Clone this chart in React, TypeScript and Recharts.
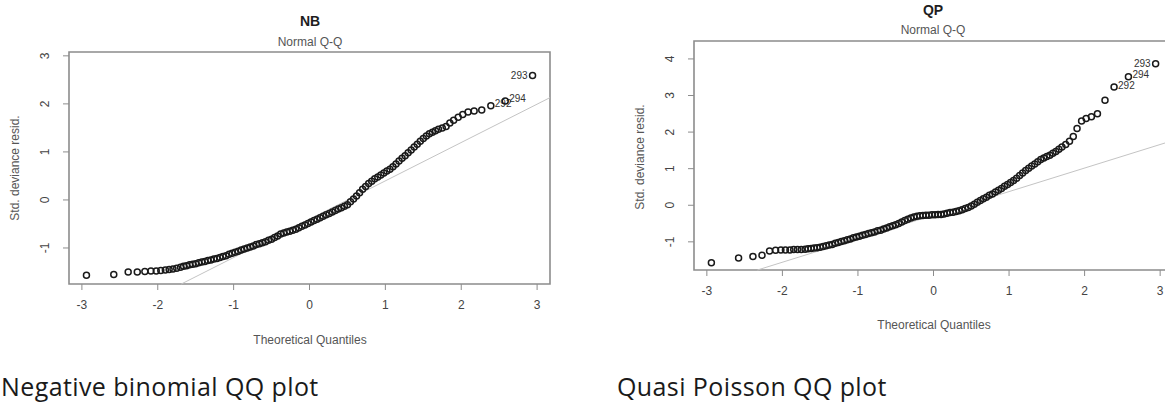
import React from 'react'
import { ScatterChart, Scatter, XAxis, YAxis, ReferenceLine, ReferenceArea } from 'recharts'

// theoretical quantiles (shared by both panels, same sample)
const quantiles = [
  -2.94, -2.58, -2.39, -2.27, -2.17, -2.09, -2.02, -1.96, -1.9, -1.85, -1.8, -1.75, -1.7, -1.66, -1.62, -1.58, -1.54, -1.5,
  -1.46, -1.42, -1.38, -1.34, -1.3, -1.26, -1.22, -1.18, -1.14, -1.1, -1.06, -1.02, -0.98, -0.94, -0.9, -0.86, -0.82, -0.78,
  -0.74, -0.7, -0.66, -0.62, -0.58, -0.54, -0.5, -0.46, -0.42, -0.38, -0.34, -0.3, -0.26, -0.22, -0.18, -0.14, -0.1, -0.06,
  -0.02, 0.02, 0.06, 0.1, 0.14, 0.18, 0.22, 0.26, 0.3, 0.34, 0.38, 0.42, 0.46, 0.5, 0.54, 0.58, 0.62, 0.66, 0.7, 0.74,
  0.78, 0.82, 0.86, 0.9, 0.94, 0.98, 1.02, 1.06, 1.1, 1.14, 1.18, 1.22, 1.26, 1.3, 1.34, 1.38, 1.42, 1.46,
  1.5, 1.54, 1.58, 1.62, 1.66, 1.7, 1.75, 1.8, 1.85, 1.9, 1.96, 2.02, 2.09, 2.17, 2.27, 2.39, 2.58, 2.94,
]

const nbResid = [
  -1.57, -1.55, -1.5, -1.5, -1.49, -1.48, -1.48, -1.47, -1.46, -1.45, -1.44, -1.42, -1.4, -1.38, -1.37, -1.35, -1.34, -1.33,
  -1.31, -1.29, -1.28, -1.26, -1.25, -1.23, -1.22, -1.2, -1.18, -1.16, -1.13, -1.11, -1.09, -1.07, -1.04, -1.02, -1.0, -0.98,
  -0.96, -0.93, -0.91, -0.89, -0.87, -0.84, -0.82, -0.78, -0.75, -0.71, -0.69, -0.67, -0.65, -0.63, -0.61, -0.58, -0.55, -0.52,
  -0.49, -0.46, -0.43, -0.4, -0.37, -0.34, -0.31, -0.28, -0.25, -0.22, -0.19, -0.16, -0.13, -0.1, -0.04, 0.02, 0.08, 0.15, 0.22, 0.28,
  0.34, 0.39, 0.44, 0.48, 0.52, 0.56, 0.6, 0.64, 0.69, 0.75, 0.81, 0.87, 0.92, 0.98, 1.04, 1.1, 1.16, 1.22,
  1.28, 1.33, 1.38, 1.41, 1.44, 1.47, 1.5, 1.53, 1.6, 1.66, 1.72, 1.78, 1.83, 1.85, 1.87, 1.96, 2.06, 2.59,
]

const qpResid = [
  -1.57, -1.44, -1.4, -1.37, -1.25, -1.23, -1.22, -1.22, -1.22, -1.21, -1.21, -1.21, -1.2, -1.19, -1.18, -1.17, -1.16, -1.15,
  -1.13, -1.11, -1.09, -1.07, -1.04, -1.02, -0.99, -0.97, -0.94, -0.92, -0.89, -0.87, -0.85, -0.82, -0.8, -0.77, -0.75, -0.73,
  -0.7, -0.68, -0.65, -0.62, -0.59, -0.56, -0.53, -0.5, -0.46, -0.42, -0.38, -0.35, -0.32, -0.3, -0.29, -0.28, -0.27, -0.27,
  -0.26, -0.26, -0.25, -0.25, -0.24, -0.22, -0.2, -0.19, -0.17, -0.15, -0.12, -0.09, -0.06, -0.02, 0.03, 0.08, 0.13, 0.18, 0.22, 0.27,
  0.31, 0.36, 0.41, 0.46, 0.52, 0.57, 0.62, 0.68, 0.74, 0.81, 0.88, 0.95, 1.01, 1.07, 1.13, 1.19, 1.25, 1.29,
  1.33, 1.37, 1.42, 1.47, 1.53, 1.59, 1.66, 1.75, 1.88, 2.1, 2.3, 2.37, 2.42, 2.5, 2.87, 3.23, 3.51, 3.87,
]

// the three largest residuals are labelled by observation number
const outlierIds = ['292', '294', '293']
const outlierSides = ['right', 'right', 'left']

const xTicks = [-3, -2, -1, 0, 1, 2, 3]
const nbYTicks = [-1, 0, 1, 2, 3]
const qpYTicks = [-1, 0, 1, 2, 3, 4]

// qqline end points where it leaves the plot region
const nbLine = [{ q: -1.69, r: -1.75 }, { q: 3.17, r: 2.13 }]
const qpLine = [{ q: -2.33, r: -1.77 }, { q: 3.17, r: 1.77 }]

const FONT = '"Liberation Sans", Arial, sans-serif'
const BOX = '#8c8c8c'
const INK = '#444'

function buildData(resid: number[]) {
  const n = quantiles.length
  return quantiles.map((q, i) => {
    const k = i - (n - outlierIds.length)
    return {
      q,
      r: resid[i],
      id: k >= 0 ? outlierIds[k] : null,
      side: k >= 0 ? outlierSides[k] : null,
    }
  })
}

function PointShape(props: any) {
  const { cx, cy, payload } = props
  if (cx == null || cy == null) return null
  return (
    <g>
      <circle cx={cx} cy={cy} r={3} fill="none" stroke="#1a1a1a" strokeWidth={1.5} />
      {payload.id && (
        <text
          x={payload.side === 'left' ? cx - 5 : cx + 4}
          y={cy - (payload.side === 'left' ? 0 : 2)}
          dy="0.35em"
          textAnchor={payload.side === 'left' ? 'end' : 'start'}
          fontSize={10}
          fontFamily={FONT}
          fill="#333"
        >
          {payload.id}
        </text>
      )}
    </g>
  )
}

function YTick(props: any) {
  const { x, y, payload } = props
  return (
    <text
      x={x - 12}
      y={y}
      transform={`rotate(-90, ${x - 12}, ${y})`}
      textAnchor="middle"
      fontSize={12}
      fontFamily={FONT}
      fill={INK}
    >
      {payload.value}
    </text>
  )
}

interface PanelProps {
  resid: number[]
  yDomain: [number, number]
  yTicks: number[]
  line: { q: number; r: number }[]
  width: number
  height: number
  margin: { top: number; right: number; bottom: number; left: number }
}

function QQPanel({ resid, yDomain, yTicks, line, width, height, margin }: PanelProps) {
  const data = buildData(resid)
  return (
    <ScatterChart width={width} height={height} margin={margin}>
      <XAxis
        type="number"
        dataKey="q"
        domain={[-3.17, 3.17]}
        ticks={xTicks}
        allowDataOverflow
        axisLine={false}
        tickLine={{ stroke: BOX }}
        tickSize={6}
        tickMargin={10}
        height={30}
        tick={{ fontSize: 12, fontFamily: FONT, fill: INK }}
      />
      <YAxis
        type="number"
        dataKey="r"
        domain={yDomain}
        ticks={yTicks}
        allowDataOverflow
        axisLine={false}
        tickLine={{ stroke: BOX }}
        tickSize={6}
        tickMargin={2}
        width={30}
        tick={<YTick />}
      />
      <ReferenceArea
        x1={-3.17}
        x2={3.17}
        y1={yDomain[0]}
        y2={yDomain[1]}
        fill="none"
        fillOpacity={0}
        stroke={BOX}
        strokeWidth={1.6}
      />
      <ReferenceLine
        segment={[{ x: line[0].q, y: line[0].r }, { x: line[1].q, y: line[1].r }]}
        stroke="#c4c4c4"
        strokeWidth={1}
      />
      <Scatter data={data} shape={<PointShape />} isAnimationActive={false} />
    </ScatterChart>
  )
}

function Txt({ x, y, size = 12, bold = false, rotate = false, color = INK, children }: any) {
  return (
    <div
      style={{
        position: 'absolute',
        left: x,
        top: y,
        transform: `translate(-50%, -50%)${rotate ? ' rotate(-90deg)' : ''}`,
        whiteSpace: 'nowrap',
        fontFamily: FONT,
        fontSize: size,
        fontWeight: bold ? 700 : 400,
        color,
        lineHeight: 1,
      }}
    >
      {children}
    </div>
  )
}

const captionStyle: React.CSSProperties = {
  position: 'absolute',
  top: 371,
  fontFamily: '"Open Sans", sans-serif',
  fontSize: 25,
  letterSpacing: 0.4,
  color: '#1a1a1a',
  whiteSpace: 'nowrap',
  lineHeight: 1.2,
}

export default function App() {
  return (
    <div
      style={{
        position: 'absolute',
        left: 0,
        top: 0,
        width: 1165,
        height: 406,
        overflow: 'hidden',
        background: '#fff',
      }}
    >
      <div style={{ position: 'absolute', left: 0, top: 0 }}>
        <QQPanel
          resid={nbResid}
          yDomain={[-1.75, 3.08]}
          yTicks={nbYTicks}
          line={nbLine}
          width={580}
          height={360}
          margin={{ top: 52, right: 30, bottom: 46, left: 39 }}
        />
      </div>
      <div style={{ position: 'absolute', left: 580, top: 0 }}>
        <QQPanel
          resid={qpResid}
          yDomain={[-1.77, 4.49]}
          yTicks={qpYTicks}
          line={qpLine}
          width={620}
          height={330}
          margin={{ top: 41, right: 27, bottom: 30, left: 84 }}
        />
      </div>

      <Txt x={310} y={21} size={14} bold color="#1e1e1e">NB</Txt>
      <Txt x={310} y={42} color="#555">Normal Q-Q</Txt>
      <Txt x={15} y={168} rotate color="#555">Std. deviance resid.</Txt>
      <Txt x={310} y={340} color="#555">Theoretical Quantiles</Txt>

      <Txt x={933} y={10} size={14} bold color="#1e1e1e">QP</Txt>
      <Txt x={933} y={30} color="#555">Normal Q-Q</Txt>
      <Txt x={640} y={157} rotate color="#555">Std. deviance resid.</Txt>
      <Txt x={934} y={325} color="#555">Theoretical Quantiles</Txt>

      <div style={{ ...captionStyle, left: 1 }}>Negative binomial QQ plot</div>
      <div style={{ ...captionStyle, left: 617 }}>Quasi Poisson QQ plot</div>
    </div>
  )
}
